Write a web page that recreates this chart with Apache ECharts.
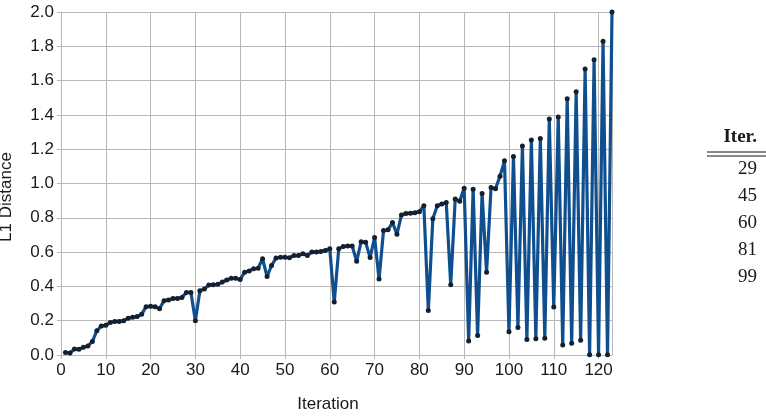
<!DOCTYPE html>
<html>
<head>
<meta charset="utf-8">
<script src="https://cdn.jsdelivr.net/npm/echarts@6/dist/echarts.min.js"></script>
<style>
  html, body { margin: 0; padding: 0; background: #fff; }
  #chart { width: 766px; height: 418px; }
</style>
</head>
<body>
<div id="chart"></div>
<script>
// L1 distance per iteration (iteration 1..123)
const l1Distance = [
  0.014, 0.012, 0.035, 0.033, 0.045, 0.053, 0.078, 0.142, 0.169, 0.173,
  0.190, 0.196, 0.196, 0.200, 0.214, 0.220, 0.224, 0.237, 0.282, 0.284,
  0.282, 0.270, 0.317, 0.321, 0.330, 0.330, 0.336, 0.365, 0.365, 0.200,
  0.375, 0.385, 0.408, 0.410, 0.412, 0.425, 0.437, 0.447, 0.447, 0.440,
  0.483, 0.490, 0.503, 0.506, 0.561, 0.457, 0.522, 0.565, 0.570, 0.570,
  0.567, 0.580, 0.580, 0.590, 0.580, 0.600, 0.600, 0.603, 0.610, 0.619,
  0.309, 0.620, 0.632, 0.636, 0.636, 0.547, 0.660, 0.657, 0.568, 0.685,
  0.443, 0.726, 0.730, 0.772, 0.704, 0.817, 0.825, 0.827, 0.830, 0.836,
  0.870, 0.259, 0.795, 0.870, 0.880, 0.889, 0.409, 0.910, 0.897, 0.973,
  0.082, 0.967, 0.113, 0.942, 0.482, 0.977, 0.969, 1.043, 1.132, 0.136,
  1.158, 0.160, 1.218, 0.090, 1.253, 0.095, 1.263, 0.097, 1.376, 0.280,
  1.388, 0.058, 1.494, 0.068, 1.535, 0.086, 1.667, 0.002, 1.722, 0.002,
  1.830, 0.002, 2.000
];

// table at the right edge
const tableHeader = 'Iter.';
const tableIters = [29, 45, 60, 81, 99];

const xTitle = 'Iteration';
const yTitle = 'L1 Distance';

const chart = echarts.init(document.getElementById('chart'));

const gridColor = '#b8b8b8';
const textColor = '#1a1a1a';
const sans = '"Liberation Sans", Arial, sans-serif';

const tableText = tableIters.map((v, i) => ({
  type: 'text',
  right: 9,
  top: 160 + i * 27,
  style: { text: String(v), font: '19px "Liberation Serif"', fill: textColor }
}));

const option = {
  animation: false,
  backgroundColor: '#fff',
  grid: { left: 61, right: 154, top: 12, bottom: 63 },
  xAxis: {
    type: 'value',
    min: 0,
    max: 123,
    interval: 10,
    axisLine: { lineStyle: { color: gridColor } },
    axisTick: { show: true, length: 4, lineStyle: { color: gridColor } },
    axisLabel: {
      color: textColor, fontFamily: sans, fontSize: 17, margin: 7,
      showMaxLabel: false
    },
    splitLine: { lineStyle: { color: gridColor, width: 1 } }
  },
  yAxis: {
    type: 'value',
    min: 0,
    max: 2,
    interval: 0.2,
    axisLine: { show: true, lineStyle: { color: gridColor } },
    axisTick: { show: true, length: 4, lineStyle: { color: gridColor } },
    axisLabel: {
      color: textColor, fontFamily: sans, fontSize: 17, margin: 7,
      formatter: v => v.toFixed(1)
    },
    splitLine: { lineStyle: { color: gridColor, width: 1 } }
  },
  graphic: [
    {
      type: 'text',
      x: 328, y: 404,
      style: {
        text: xTitle, font: '17px "Liberation Sans"', fill: textColor,
        align: 'center', verticalAlign: 'middle'
      }
    },
    {
      type: 'text',
      x: 6, y: 197, rotation: Math.PI / 2,
      style: {
        text: yTitle, font: '17px "Liberation Sans"', fill: textColor,
        align: 'center', verticalAlign: 'middle'
      }
    },
    {
      type: 'text',
      right: 9, top: 128,
      style: { text: tableHeader, font: 'bold 19px "Liberation Serif"', fill: textColor }
    },
    {
      type: 'line',
      shape: { x1: 707, y1: 152, x2: 766, y2: 152 },
      style: { stroke: '#111', lineWidth: 1 }
    },
    {
      type: 'line',
      shape: { x1: 707, y1: 156, x2: 766, y2: 156 },
      style: { stroke: '#111', lineWidth: 1 }
    },
    ...tableText
  ],
  series: [
    {
      type: 'line',
      data: l1Distance.map((v, i) => [i + 1, v]),
      symbol: 'circle',
      symbolSize: 5,
      showAllSymbol: true,
      lineStyle: { color: '#0f4f8f', width: 3.2 },
      itemStyle: { color: '#14202e' },
      z: 3
    }
  ]
};

chart.setOption(option);
</script>
</body>
</html>
